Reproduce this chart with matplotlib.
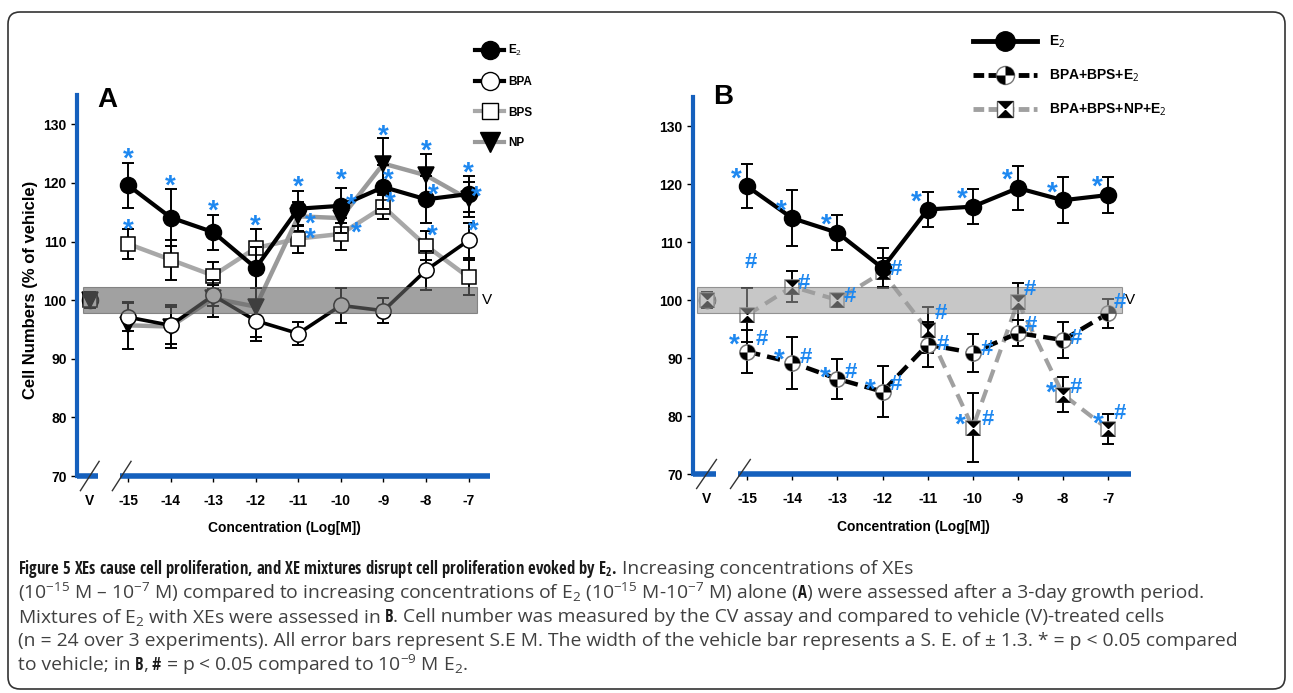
import matplotlib
matplotlib.use("Agg")
import matplotlib.pyplot as plt
from matplotlib.path import Path
from matplotlib.lines import Line2D
from matplotlib.legend_handler import HandlerTuple
from matplotlib.patches import FancyBboxPatch, Rectangle
from matplotlib import font_manager

# ---- data ----
conc = [-15, -14, -13, -12, -11, -10, -9, -8, -7]
tick_labels = ["V", "-15", "-14", "-13", "-12", "-11", "-10", "-9", "-8", "-7"]

e2 = [119.6, 114.1, 111.6, 105.5, 115.6, 116.1, 119.3, 117.2, 118.1]
e2_err = [3.8, 4.8, 3.0, 3.5, 3.0, 3.0, 3.8, 4.0, 3.1]
bpa = [97.1, 95.7, 100.8, 96.5, 94.3, 99.1, 98.2, 105.1, 110.2]
bpa_err = [2.4, 3.1, 1.8, 2.8, 2.0, 3.0, 2.1, 3.3, 3.0]
bps = [109.6, 106.9, 104.2, 108.9, 110.5, 111.3, 115.9, 109.3, 103.9]
bps_err = [2.6, 3.4, 2.3, 3.3, 2.4, 2.7, 2.0, 2.5, 3.0]
nonyl = [95.7, 95.5, 100.3, 98.9, 114.3, 114.0, 123.3, 121.3, 117.2]
nonyl_err = [4.0, 3.6, 3.2, 5.8, 2.5, 2.5, 4.3, 3.6, 3.0]

mix3 = [91.1, 89.2, 86.4, 84.2, 92.3, 90.9, 94.3, 93.1, 97.7]
mix3_err = [3.7, 4.5, 3.4, 4.4, 3.9, 3.3, 2.2, 3.1, 2.5]
mix4 = [97.4, 102.3, 100.0, 104.8, 94.8, 78.0, 99.7, 83.7, 77.7]
mix4_err = [4.7, 2.7, 1.0, 2.5, 4.0, 6.0, 3.2, 3.0, 2.6]

vehicle = 100.0
vehicle_err = 1.4
vehicle_band = 2.2   # drawn half-width of the grey vehicle bar

# significance marks: (series, index, anchor, dx px, dy px)
stars_a = [("e2", 0, "top", 0, 12), ("e2", 1, "top", 0, 12), ("e2", 2, "top", 0, 12),
           ("bps", 3, "top", 0, 11), ("e2", 4, "top", 0, 13), ("e2", 5, "top", 0, 17),
           ("np", 6, "top", 0, 11), ("np", 7, "top", 0, 12), ("e2", 8, "top", 0, 11),
           ("bps", 0, "top", 0, 7), ("np", 4, "pt", 12, 1), ("bps", 4, "pt", 12, 8),
           ("e2", 5, "pt", 10, 9), ("bps", 5, "pt", 15, 9), ("e2", 6, "pt", 5, 15),
           ("bps", 6, "pt", 7, 12), ("e2", 7, "pt", 7, 13), ("bps", 7, "pt", 6, 18),
           ("e2", 8, "pt", 8, 5), ("bpa", 8, "pt", 5, 18)]
stars_b = [("e2", i, "pt", -11, 16) for i in (0, 1, 2, 4, 5, 6, 7, 8)] + \
          [("mix3", 0, "pt", -13, 15), ("mix3", 1, "pt", -13, 11), ("mix3", 2, "pt", -12, 9),
           ("mix3", 3, "pt", -12, 10), ("mix4", 5, "pt", -13, 11), ("mix4", 7, "pt", -12, 10),
           ("mix4", 8, "pt", -10, 14)]
hash_b = [("mix3", 0, "pt", 15, 15), ("mix3", 1, "pt", 14, 8), ("mix3", 2, "pt", 13, 9),
          ("mix3", 3, "pt", 13, 10), ("mix3", 4, "pt", 15, 3), ("mix3", 5, "pt", 14, 6),
          ("mix3", 6, "pt", 13, 10), ("mix3", 7, "pt", 13, 4), ("mix3", 8, "pt", 12, 13),
          ("mix4", 0, "top", 4, 28), ("mix4", 1, "pt", 12, 6), ("mix4", 2, "pt", 12, 6),
          ("mix4", 3, "pt", 13, 5), ("mix4", 4, "pt", 13, 19), ("mix4", 5, "pt", 15, 11),
          ("mix4", 6, "pt", 12, 15), ("mix4", 7, "pt", 13, 10), ("mix4", 8, "pt", 12, 18)]

W, H = 1293, 693
BLUE = "#1560bd"
SIG = "#1e88f0"
VPOS = -15.9

names = {f.name for f in font_manager.fontManager.ttflist}
bold_font = "DejaVu Sans"
for n in ["Open Sans Condensed", "Liberation Sans Narrow", "Roboto Condensed"]:
    if n in names:
        bold_font = n
        break
text_font = "Open Sans" if "Open Sans" in names else "DejaVu Sans"

plt.rcParams["font.family"] = ["Liberation Sans", "DejaVu Sans"]
plt.rcParams["mathtext.fontset"] = "custom"
plt.rcParams["mathtext.rm"] = text_font
plt.rcParams["mathtext.bf"] = bold_font + ":bold"
plt.rcParams["mathtext.it"] = text_font + ":italic"

quarter = Path.make_compound_path(Path.wedge(0, 90), Path.wedge(180, 270))
hourglass = Path([(-0.5, 0.5), (0.5, 0.5), (0, 0), (-0.5, 0.5),
                  (-0.5, -0.5), (0.5, -0.5), (0, 0), (-0.5, -0.5)],
                 [Path.MOVETO, Path.LINETO, Path.LINETO, Path.CLOSEPOLY,
                  Path.MOVETO, Path.LINETO, Path.LINETO, Path.CLOSEPOLY])

fig = plt.figure(figsize=(W / 100, H / 100), dpi=100)
axA = fig.add_axes([77 / W, 1 - 476 / H, 415 / W, 381 / H])
axB = fig.add_axes([693 / W, 1 - 474 / H, 440 / W, 377 / H])


def style_axes(ax):
    ax.set_xlim(-16.2, -6.45)
    ax.set_ylim(70, 135)
    for s in ["top", "right", "bottom"]:
        ax.spines[s].set_visible(False)
    ax.spines["left"].set_color(BLUE)
    ax.spines["left"].set_linewidth(3)
    ax.spines["left"].set_bounds(70, 135)
    ax.set_yticks([70, 80, 90, 100, 110, 120, 130])
    ax.set_xticks([VPOS] + conc)
    ax.set_xticklabels(tick_labels)
    ax.tick_params(axis="both", colors="black", labelsize=10, width=1, length=4)
    ax.tick_params(axis="x", pad=9, length=4)
    for lab in ax.get_xticklabels() + ax.get_yticklabels():
        lab.set_fontweight("bold")
    ax.get_xticklines()[0].set_visible(False)
    # broken x axis
    ax.plot([-16.2, VPOS + 0.2], [70, 70], color=BLUE, lw=4, clip_on=False, zorder=6,
            solid_capstyle="butt")
    ax.plot([-15.2, -6.5], [70, 70], color=BLUE, lw=4, clip_on=False, zorder=6,
            solid_capstyle="butt")
    for xs in (VPOS, -15.15):
        ax.plot([xs - 0.22, xs + 0.22], [67.5, 72.5], color="#333333", lw=1,
                clip_on=False, zorder=7)


def draw(ax, y, err, lc, lw, marker, ms, mfc, mec, z, vz, overlay=None, dashes=None):
    ax.errorbar(conc, y, yerr=err, fmt="none", ecolor="black", elinewidth=1.4,
                capsize=4.5, capthick=1.4, zorder=z - 0.5)
    ax.errorbar([VPOS], [vehicle], yerr=[vehicle_err], fmt="none", ecolor="black",
                elinewidth=1.2, capsize=4, capthick=1.2, zorder=2)
    kw = dict(color=lc, lw=lw, zorder=z - 0.2)
    if dashes:
        kw["dashes"] = dashes
    ax.plot(conc, y, **kw)
    ax.plot(conc, y, ls="none", marker=marker, ms=ms, mfc=mfc, mec=mec, mew=1.1, zorder=z)
    ax.plot([VPOS], [vehicle], ls="none", marker=marker, ms=ms, mfc=mfc, mec=mec, mew=1.1,
            zorder=vz)
    if overlay is not None:
        ax.plot(conc, y, ls="none", marker=overlay, ms=ms, mfc="black", mec="none",
                zorder=z + 0.1)
        ax.plot([VPOS], [vehicle], ls="none", marker=overlay, ms=ms, mfc="black", mec="none",
                zorder=vz + 0.1)


def band(ax, x0, x1, color, alpha):
    ax.add_patch(Rectangle((x0, vehicle - vehicle_band), x1 - x0, 2 * vehicle_band,
                           facecolor=color, alpha=alpha, edgecolor="#555555", lw=0.8, zorder=8))


def marks(ax, items, lookup, sym, fs, base):
    for key, i, anchor, dx, dy in items:
        y, err = lookup[key]
        yy = y[i] + (err[i] if anchor == "top" else 0)
        ax.annotate(sym, (conc[i], yy), xytext=(dx, dy + base), textcoords="offset pixels",
                    ha="center", va="baseline", color=SIG, fontsize=fs, fontweight="bold",
                    zorder=10, annotation_clip=False)


style_axes(axA)
style_axes(axB)

# panel A
draw(axA, bps, bps_err, "#a8a8a8", 3.2, "s", 10.5, "white", "black", 3, 3)
draw(axA, nonyl, nonyl_err, "#9a9a9a", 3.2, "v", 12, "black", "black", 3.5, 5)
draw(axA, bpa, bpa_err, "black", 2.6, "o", 11, "white", "black", 4, 2.6)
draw(axA, e2, e2_err, "black", 3.0, "o", 11.5, "black", "black", 4.5, 2.5)
band(axA, -16.05, -6.8, "#676767", 0.62)
axA.text(-6.68, vehicle, "V", ha="left", va="center", fontsize=11)

# panel B
draw(axB, mix4, mix4_err, "#a0a0a0", 3.0, "s", 10.5, "white", "#888888", 3, 5,
     overlay=hourglass, dashes=(3.2, 1.9))
draw(axB, mix3, mix3_err, "black", 3.2, "o", 11, "white", "#777777", 3.5, 2.6,
     overlay=quarter, dashes=(3.0, 1.6))
draw(axB, e2, e2_err, "black", 3.0, "o", 11.5, "black", "black", 4.5, 2.5)
band(axB, -16.12, -6.7, "#9e9e9e", 0.57)
axB.text(-6.62, vehicle, "V", ha="left", va="center", fontsize=11)

lookA = {"e2": (e2, e2_err), "bpa": (bpa, bpa_err), "bps": (bps, bps_err), "np": (nonyl, nonyl_err)}
lookB = {"e2": (e2, e2_err), "mix3": (mix3, mix3_err), "mix4": (mix4, mix4_err)}
marks(axA, stars_a, lookA, "*", 20, -16)
marks(axB, stars_b, lookB, "*", 20, -16)
marks(axB, hash_b, lookB, "#", 16, -8)

# legends
hA = [Line2D([], [], color="black", lw=3, marker="o", ms=13, mfc="black", mec="black"),
      Line2D([], [], color="black", lw=3, marker="o", ms=13, mfc="white", mec="black"),
      Line2D([], [], color="#a8a8a8", lw=3, marker="s", ms=12, mfc="white", mec="black"),
      Line2D([], [], color="#9a9a9a", lw=3, marker="v", ms=14, mfc="black", mec="black")]
legA = fig.legend(hA, ["E$_2$", "BPA", "BPS", "NP"], loc="upper left",
                  bbox_to_anchor=(469 / W, 1 - 37 / H), frameon=False, fontsize=8.5,
                  handlelength=2.5, handletextpad=0.3, labelspacing=1.55, borderpad=0)
for t in legA.get_texts():
    t.set_fontweight("bold")

e2_h = Line2D([], [], color="black", lw=3.5, marker="o", ms=14, mfc="black", mec="black")
m3_line = Line2D([], [], color="black", lw=3.5, dashes=(2.2, 0.9), marker="o", ms=13,
                 mfc="white", mec="#777777")
m3_over = Line2D([], [], ls="none", marker=quarter, ms=13, mfc="black", mec="none")
m4_line = Line2D([], [], color="#a0a0a0", lw=3.5, dashes=(2.2, 0.9), marker="s", ms=12,
                 mfc="white", mec="#666666")
m4_over = Line2D([], [], ls="none", marker=hourglass, ms=12, mfc="black", mec="none")
legB = fig.legend([e2_h, (m3_line, m3_over), (m4_line, m4_over)],
                  ["E$_2$", "BPA+BPS+E$_2$", "BPA+BPS+NP+E$_2$"], loc="upper left",
                  bbox_to_anchor=(966 / W, 1 - 27 / H), frameon=False, fontsize=10,
                  handlelength=4.6, handletextpad=0.9, labelspacing=1.25, borderpad=0,
                  handler_map={tuple: HandlerTuple(ndivide=1)})
for t in legB.get_texts():
    t.set_fontweight("bold")

# panel letters and axis titles
fig.text(97 / W, 1 - 100 / H, "A", fontsize=20, fontweight="bold", ha="left", va="center")
fig.text(713 / W, 1 - 97 / H, "B", fontsize=20, fontweight="bold", ha="left", va="center")
fig.text(31 / W, 1 - 290 / H, "Cell Numbers (% of vehicle)", rotation=90, fontsize=12,
         fontweight="bold", ha="center", va="center")
fig.text(284 / W, 1 - 528 / H, "Concentration (Log[M])", fontsize=10, fontweight="bold",
         ha="center", va="center")
fig.text(913 / W, 1 - 527 / H, "Concentration (Log[M])", fontsize=10, fontweight="bold",
         ha="center", va="center")

# caption
caption = [
    [("Figure 5 XEs cause cell proliferation, and XE mixtures disrupt cell proliferation evoked by E$_\\mathbf{2}$.", "bold"),
     (" Increasing concentrations of XEs", "normal")],
    [("(10$^{-15}$ M \u2013 10$^{-7}$ M) compared to increasing concentrations of E$_2$ (10$^{-15}$ M-10$^{-7}$ M) alone (", "normal"),
     ("A", "bold"), (") were assessed after a 3-day growth period.", "normal")],
    [("Mixtures of E$_2$ with XEs were assessed in", "normal"), (" B", "bold"),
     (". Cell number was measured by the CV assay and compared to vehicle (V)-treated cells", "normal")],
    [("(n = 24 over 3 experiments). All error bars represent S.E M. The width of the vehicle bar represents a S. E. of \u00b1 1.3. * = p < 0.05 compared", "normal")],
    [("to vehicle; in", "normal"), (" B", "bold"), (",", "normal"), (" #", "bold"),
     (" = p < 0.05 compared to 10$^{-9}$ M E$_2$.", "normal")],
]
fig.canvas.draw()
renderer = fig.canvas.get_renderer()
probe = fig.text(0, 0, caption[3][0][0], family=[text_font, "DejaVu Sans"], fontsize=11)
text_fs = 11 * 1219 / probe.get_window_extent(renderer).width
probe.remove()
for row, pieces in enumerate(caption):
    x = 18.0
    y = 1 - (569 + 24 * row) / H
    for txt, wt in pieces:
        if wt == "bold":
            t = fig.text(x / W, y, txt, family=[bold_font, "DejaVu Sans"], fontsize=12,
                         fontweight="bold", va="center", ha="left", color="#1a1a1a")
        else:
            t = fig.text(x / W, y, txt, family=[text_font, "DejaVu Sans"], fontsize=text_fs,
                         va="center", ha="left", color="#404040")
        x = t.get_window_extent(renderer).x1

fig.patches.append(FancyBboxPatch((8, 4), 1277, 677, boxstyle="round,pad=0,rounding_size=12",
                                  transform=None, fill=False, edgecolor="#333333", lw=1.2))

fig.savefig("out.png", dpi=100)
